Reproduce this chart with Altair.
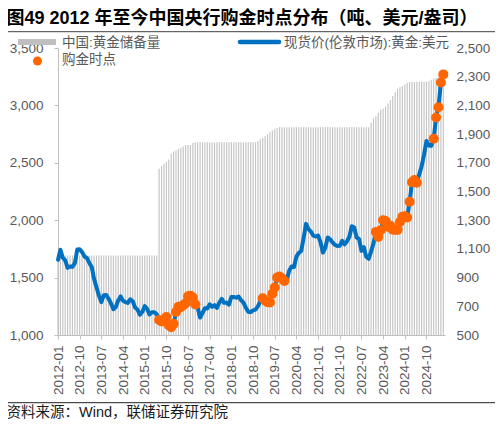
import json
import pandas as pd
import altair as alt

# ---------------- data ----------------
# London gold spot, monthly average, USD/oz (2012-01 .. 2025-05)
price_2012 = [1656, 1742, 1673, 1650, 1585, 1596, 1594, 1626, 1744, 1747, 1722, 1684]
price_2013 = [1671, 1628, 1593, 1487, 1414, 1343, 1286, 1347, 1349, 1316, 1275, 1225]
price_2014 = [1244, 1300, 1336, 1299, 1287, 1279, 1311, 1296, 1239, 1222, 1176, 1201]
price_2015 = [1251, 1227, 1179, 1198, 1199, 1181, 1131, 1117, 1125, 1157, 1086, 1068]
price_2016 = [1097, 1200, 1246, 1243, 1260, 1276, 1337, 1341, 1326, 1267, 1238, 1152]
price_2017 = [1192, 1234, 1231, 1267, 1246, 1260, 1236, 1283, 1315, 1280, 1282, 1265]
price_2018 = [1331, 1331, 1325, 1335, 1304, 1282, 1238, 1202, 1199, 1215, 1221, 1250]
price_2019 = [1292, 1320, 1300, 1285, 1284, 1359, 1413, 1500, 1510, 1495, 1471, 1480]
price_2020 = [1560, 1597, 1592, 1683, 1716, 1732, 1847, 1968, 1922, 1901, 1866, 1858]
price_2021 = [1867, 1808, 1718, 1760, 1850, 1834, 1807, 1785, 1775, 1777, 1821, 1790]
price_2022 = [1817, 1856, 1948, 1937, 1849, 1837, 1733, 1765, 1681, 1664, 1726, 1798]
price_2023 = [1898, 1855, 1912, 2000, 1992, 1943, 1951, 1918, 1916, 1916, 1985, 2030]
price_2024 = [2034, 2024, 2160, 2331, 2350, 2326, 2399, 2470, 2571, 2690, 2651, 2648]
price_2025 = [2709, 2895, 2984, 3200, 3270]

# China gold reserves, tonnes
res_2012 = [1054.1] * 12
res_2013 = [1054.1] * 12
res_2014 = [1054.1] * 12
res_2015 = [1054.1, 1054.1, 1054.1, 1054.1, 1054.1, 1054.1, 1658.1, 1677.3, 1692.9, 1707.9, 1722.5, 1762.3]
res_2016 = [1779.0, 1788.3, 1797.5, 1805.2, 1814.0, 1823.3, 1823.3, 1823.3, 1838.5, 1842.6, 1842.6, 1842.6]
res_2017 = [1842.6] * 12
res_2018 = [1842.6, 1842.6, 1842.6, 1842.6, 1842.6, 1842.6, 1842.6, 1842.6, 1842.6, 1842.6, 1842.6, 1852.5]
res_2019 = [1864.3, 1873.3, 1885.5, 1899.2, 1914.5, 1925.8, 1936.5, 1942.0, 1948.3, 1948.3, 1948.3, 1948.3]
res_2020 = [1948.3] * 12
res_2021 = [1948.3] * 12
res_2022 = [1948.3, 1948.3, 1948.3, 1948.3, 1948.3, 1948.3, 1948.3, 1948.3, 1948.3, 1948.3, 1980.4, 2010.2]
res_2023 = [2024.9, 2048.3, 2068.4, 2076.3, 2092.2, 2113.0, 2136.4, 2165.0, 2191.5, 2215.6, 2226.4, 2235.4]
res_2024 = [2245.3, 2257.0, 2262.4, 2264.3, 2264.3, 2264.3, 2264.3, 2264.3, 2264.3, 2264.3, 2269.3, 2279.6]
res_2025 = [2284.9, 2290.2, 2292.3, 2294.4, 2296.4]

# months marked as purchase points
dot_months = (
    ["2015-07", "2015-08", "2015-09", "2015-10", "2015-11", "2015-12",
     "2016-01", "2016-02", "2016-03", "2016-04", "2016-05", "2016-06",
     "2016-07", "2016-08", "2016-09", "2016-10"]
    + ["2019-02", "2019-03", "2019-04", "2019-05", "2019-06", "2019-07",
       "2019-08", "2019-09", "2019-10", "2019-11"]
    + ["2023-01", "2023-02", "2023-03", "2023-04", "2023-05", "2023-06",
       "2023-07", "2023-08", "2023-09", "2023-10", "2023-11", "2023-12",
       "2024-01", "2024-02", "2024-03", "2024-04", "2024-05", "2024-06"]
    + ["2025-01", "2025-02", "2025-03", "2025-04", "2025-05"]
)

tick_labels = ["2012-01", "2012-10", "2013-07", "2014-04", "2015-01", "2015-10",
               "2016-07", "2017-04", "2018-01", "2018-10", "2019-07", "2020-04",
               "2021-01", "2021-10", "2022-07", "2023-04", "2024-01", "2024-10"]
left_ticks = [1000, 1500, 2000, 2500, 3000, 3500]
right_ticks = [500, 700, 900, 1100, 1300, 1500, 1700, 1900, 2100, 2300, 2500]

title_text = "图49 2012 年至今中国央行购金时点分布（吨、美元/盎司）"
source_text = "资料来源：Wind，联储证券研究院"
leg_reserve = "中国:黄金储备量"
leg_dot = "购金时点"
leg_price = "现货价(伦敦市场):黄金:美元"

# ---------------- frame ----------------
gold_price = (price_2012 + price_2013 + price_2014 + price_2015 + price_2016 + price_2017
              + price_2018 + price_2019 + price_2020 + price_2021 + price_2022 + price_2023
              + price_2024 + price_2025)
reserves = (res_2012 + res_2013 + res_2014 + res_2015 + res_2016 + res_2017 + res_2018
            + res_2019 + res_2020 + res_2021 + res_2022 + res_2023 + res_2024 + res_2025)
n = len(gold_price)
month_labels = [f"{2012 + i // 12}-{i % 12 + 1:02d}" for i in range(n)]
df = pd.DataFrame({"m": list(range(n)), "month": month_labels,
                   "price": gold_price, "reserve": reserves})
df["base"] = 500
dots_df = df[df["month"].isin(dot_months)]
tick_vals = [month_labels.index(t) for t in tick_labels]

label_map = json.dumps({str(v): t for v, t in zip(tick_vals, tick_labels)})
label_expr = f"{label_map}[''+datum.value]"

W, H = 387, 287
GREY = "#595959"
AXFONT = "Liberation Sans"
CJK = "Noto Sans CJK SC"
MIX = f"{AXFONT}, {CJK}"

xscale = alt.Scale(domain=[0, 160.7], nice=False, zero=False)


def xaxis():
    return alt.Axis(values=tick_vals, labelExpr=label_expr, labelAngle=270,
                    labelFont=AXFONT, labelFontSize=13.5, labelColor=GREY,
                    tickSize=4, tickColor="#bfbfbf", domainColor="#bfbfbf",
                    labelPadding=6, grid=False, title=None, labelOverlap=False,
                    labelBound=False, labelFlush=False)


bars = alt.Chart(df).mark_rule(color="#c4c4c4", strokeWidth=1.15).encode(
    x=alt.X("m:Q", scale=xscale, axis=xaxis()),
    y=alt.Y("reserve:Q", scale=alt.Scale(domain=[500, 2500], nice=False, zero=False),
            axis=alt.Axis(orient="right", values=right_ticks, format=",d", grid=False,
                          domain=False, ticks=False, labelPadding=11, labelFont=AXFONT,
                          labelFontSize=13.5, labelColor=GREY, title=None)),
    y2="base:Q",
)

left_scale = alt.Scale(domain=[1000, 3500], nice=False, zero=False)
line = alt.Chart(df).mark_line(color="#0070C0", strokeWidth=4, strokeJoin="round",
                               strokeCap="round").encode(
    x=alt.X("m:Q", scale=xscale, axis=xaxis()),
    y=alt.Y("price:Q", scale=left_scale,
            axis=alt.Axis(orient="left", values=left_ticks, format=",d", grid=False,
                          domainColor="#bfbfbf", tickColor="#bfbfbf", tickSize=4,
                          labelPadding=11, labelFont=AXFONT, labelFontSize=13.5,
                          labelColor=GREY, title=None)),
)

dots = alt.Chart(dots_df).mark_circle(color="#FF6600", size=100, opacity=1).encode(
    x=alt.X("m:Q", scale=xscale, axis=xaxis()),
    y=alt.Y("price:Q", scale=left_scale, axis=None),
)

one = pd.DataFrame({"a": [0]})


def txt(text, x, y, size, color, font=MIX, weight="normal", baseline="middle"):
    return alt.Chart(one).mark_text(text=text, align="left", baseline=baseline,
                                    font=font, fontSize=size, fontWeight=weight,
                                    color=color).encode(x=alt.value(x), y=alt.value(y))


leg_rect = alt.Chart(one).mark_rect(color="#bfbfbf").encode(
    x=alt.value(-40), x2=alt.value(-2), y=alt.value(-9), y2=alt.value(-3))
leg_circle = alt.Chart(one).mark_circle(color="#FF6600", size=80, opacity=1).encode(
    x=alt.value(-20.5), y=alt.value(13))
leg_line = alt.Chart(one).mark_rule(color="#0070C0", strokeWidth=4.5, strokeCap="round").encode(
    x=alt.value(182), x2=alt.value(221), y=alt.value(-6))

top_rule = alt.Chart(one).mark_rule(color="#404040", strokeWidth=1).encode(
    x=alt.value(-53), x2=alt.value(442), y=alt.value(-16.3))
bottom_rule = alt.Chart(one).mark_rule(color="#202020", strokeWidth=1).encode(
    x=alt.value(-53), x2=alt.value(442), y=alt.value(354.7))

title = txt(title_text, -51.5, -24.5, 18, "#000000", weight="bold", baseline="alphabetic")
source = txt(source_text, -51.5, 369, 14.5, "#1a1a1a", baseline="alphabetic")

chart = alt.layer(
    bars, line, dots,
    leg_rect, leg_circle, leg_line,
    txt(leg_reserve, 4, -5, 13.5, GREY),
    txt(leg_dot, 4, 12, 13.5, GREY),
    txt(leg_price, 226, -5, 13.5, GREY),
    top_rule, bottom_rule, title, source,
).resolve_scale(y="independent").properties(
    width=W, height=H,
    autosize=alt.AutoSizeParams(type="none"),
    padding={"left": 50, "top": 40, "right": 50, "bottom": 84},
).configure_view(stroke=None)

chart.save("out.html", embed_options={"renderer": "svg", "actions": False})
